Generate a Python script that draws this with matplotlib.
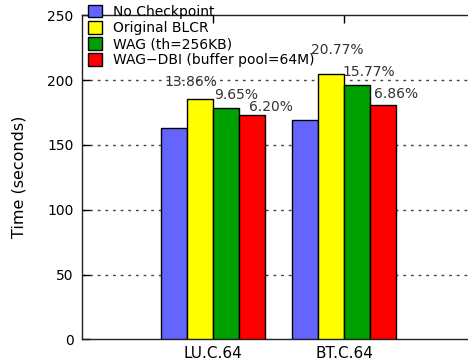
import matplotlib
matplotlib.use("Agg")
import matplotlib.pyplot as plt
import numpy as np

# benchmark groups and checkpoint variants
benchmarks = ["LU.C.64", "BT.C.64"]
variants = ["No Checkpoint", "Original BLCR", "WAG (th=256KB)",
            "WAG\u2212DBI (buffer pool=64M)"]
colors = ["#6464ff", "#ffff00", "#00a000", "#ff0000"]

# time in seconds, one list per variant (LU, BT)
no_ckpt = [163.0, 169.5]
blcr = [185.6, 204.7]
wag = [178.7, 196.2]
wag_dbi = [173.1, 181.1]
times = [no_ckpt, blcr, wag, wag_dbi]

# overhead labels over BLCR, WAG, WAG-DBI bars
overhead = [["13.86%", "20.77%"], ["9.65%", "15.77%"], ["6.20%", "6.86%"]]
# hand placed label offsets (pixels) from the bar's top right corner
label_off = [[(-22, 17), (-7, 24)], [(-3, 13), (-1, 13)], [(6, 8), (0, 11)]]

plt.rcParams["font.family"] = ["DejaVu Sans"]
plt.rcParams["font.size"] = 10

fig = plt.figure(figsize=(4.68, 3.64), dpi=100)
ax = fig.add_axes([82 / 468, 1 - 339.3 / 364, 393 / 468, (339.3 - 15.3) / 364])

x = np.arange(1, len(benchmarks) + 1)
w = 0.2
bars = []
for i, (vals, c, lab) in enumerate(zip(times, colors, variants)):
    b = ax.bar(x + (i - 1.5) * w, vals, w, color=c, edgecolor="black",
               linewidth=1.0, label=lab, zorder=3)
    bars.append(b)

for j in range(3):
    for k in range(len(benchmarks)):
        rect = bars[j + 1][k]
        dx, dy = label_off[j][k]
        ax.annotate(overhead[j][k],
                    (rect.get_x() + rect.get_width(), rect.get_height()),
                    xytext=(dx, dy), textcoords="offset pixels",
                    ha="center", va="center", color="#333333", fontsize=10,
                    zorder=5)

ax.set_xlim(0, 3)
ax.set_ylim(0, 250)
ax.set_yticks([0, 50, 100, 150, 200, 250])
ax.set_xticks(x)
ax.set_xticklabels(benchmarks, fontsize=11)
ax.set_ylabel("Time (seconds)", fontsize=11.5)
ax.yaxis.set_label_coords(-0.14, 0.5)

ax.tick_params(direction="in", length=6, width=1, top=True, right=False)
ax.tick_params(axis="y", pad=6)
ax.tick_params(axis="x", pad=5)
for s in ax.spines.values():
    s.set_linewidth(1.0)
    s.set_color("#222222")

for yv in [50, 100, 150, 200]:
    ax.axhline(yv, color="#444444", linewidth=1.0, linestyle=(0, (2, 3.5)),
               zorder=1)

fig.legend(loc="upper left", bbox_to_anchor=(88 / 468, 1 - 5 / 364),
           frameon=False, handlelength=1.0, handleheight=1.0,
           handletextpad=0.8, labelspacing=0.15, borderpad=0, borderaxespad=0)

fig.savefig("out.png", dpi=100)
